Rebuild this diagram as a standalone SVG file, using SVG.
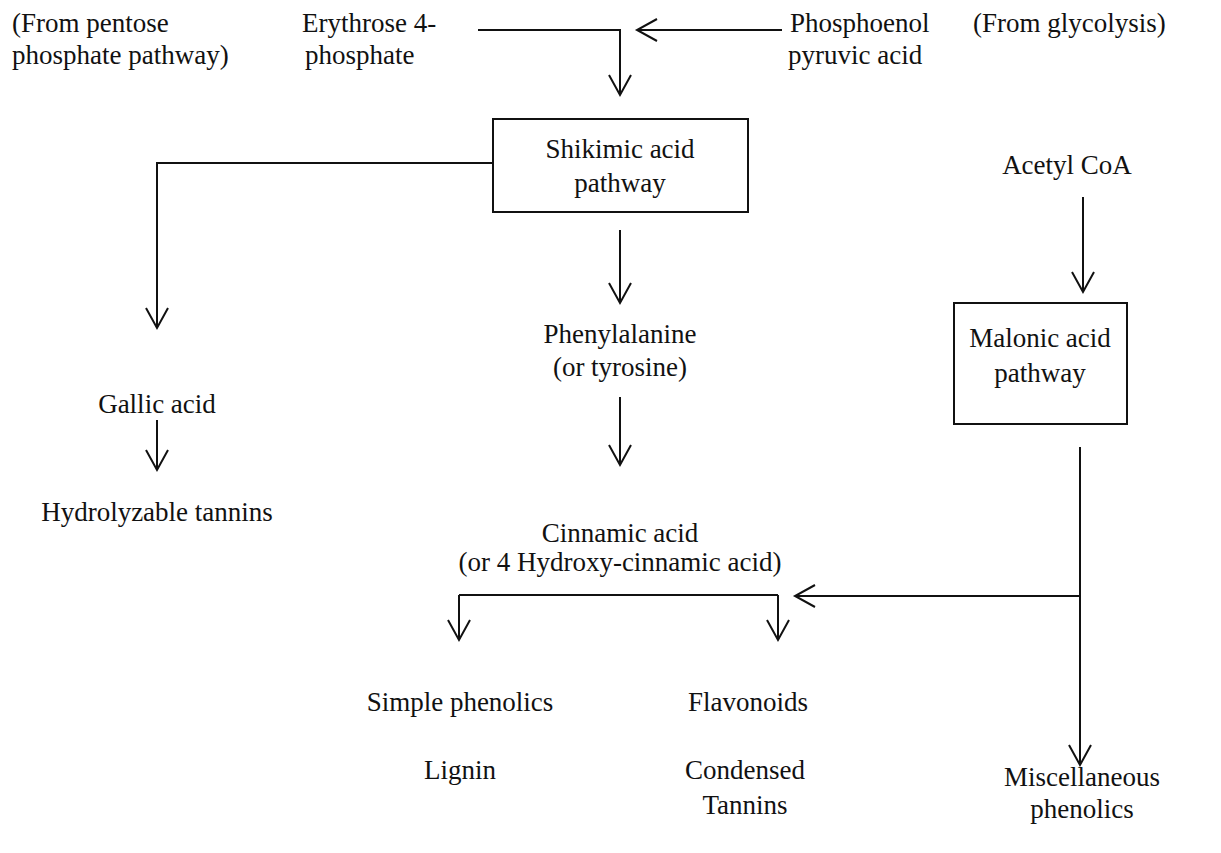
<svg xmlns="http://www.w3.org/2000/svg" width="1221" height="853" viewBox="0 0 1221 853">
<style>
text{font-family:"Liberation Serif","Times New Roman",serif;font-size:27px;fill:#111}
.c{text-anchor:middle}
.ln{fill:none;stroke:#111;stroke-width:2}
.box{fill:#fff;stroke:#111;stroke-width:2}
</style>
<defs>
<marker id="v" viewBox="0 0 30 30" refX="26" refY="15" markerWidth="30" markerHeight="30" markerUnits="userSpaceOnUse" orient="auto">
<path d="M6 4 L26 15 L6 26" fill="none" stroke="#111" stroke-width="2"/>
</marker>
</defs>
<rect width="1221" height="853" fill="#fff"/>
<g id="connectors">
<path class="ln" d="M478 30 H620 V95" marker-end="url(#v)"/>
<path class="ln" d="M782 30 H637" marker-end="url(#v)"/>
<path class="ln" d="M493 163 H157 V328" marker-end="url(#v)"/>
<path class="ln" d="M157 420 V470" marker-end="url(#v)"/>
<path class="ln" d="M620 230 V303" marker-end="url(#v)"/>
<path class="ln" d="M620 397 V465" marker-end="url(#v)"/>
<path class="ln" d="M459 595 H778"/>
<path class="ln" d="M459 595 V640" marker-end="url(#v)"/>
<path class="ln" d="M778 595 V640" marker-end="url(#v)"/>
<path class="ln" d="M1083 197 V292" marker-end="url(#v)"/>
<path class="ln" d="M1080 447 V765" marker-end="url(#v)"/>
<path class="ln" d="M1080 596 H795" marker-end="url(#v)"/>
</g>
<g id="pentose"><text x="12" y="32">(From pentose</text><text x="12" y="64">phosphate pathway)</text></g>
<g id="erythrose"><text x="302" y="32">Erythrose 4-</text><text x="305" y="64">phosphate</text></g>
<g id="pep"><text x="790" y="32">Phosphoenol</text><text x="788" y="64">pyruvic acid</text></g>
<g id="glycolysis"><text x="973" y="32">(From glycolysis)</text></g>
<g id="shikimic"><rect class="box" x="493" y="119" width="255" height="93"/><text class="c" x="620" y="158">Shikimic acid</text><text class="c" x="620" y="192">pathway</text></g>
<g id="acetyl"><text class="c" x="1067" y="174">Acetyl CoA</text></g>
<g id="malonic"><rect class="box" x="954" y="303" width="173" height="121"/><text class="c" x="1040" y="347">Malonic acid</text><text class="c" x="1040" y="382">pathway</text></g>
<g id="phenylalanine"><text class="c" x="620" y="343">Phenylalanine</text><text class="c" x="620" y="376">(or tyrosine)</text></g>
<g id="gallic"><text class="c" x="157" y="413">Gallic acid</text></g>
<g id="hydrolyzable"><text class="c" x="157" y="521">Hydrolyzable tannins</text></g>
<g id="cinnamic"><text class="c" x="620" y="542">Cinnamic acid</text><text class="c" x="620" y="571">(or 4 Hydroxy-cinnamic acid)</text></g>
<g id="simple"><text class="c" x="460" y="711">Simple phenolics</text></g>
<g id="lignin"><text class="c" x="460" y="779">Lignin</text></g>
<g id="flavonoids"><text class="c" x="748" y="711">Flavonoids</text></g>
<g id="condensed"><text class="c" x="745" y="779">Condensed</text><text class="c" x="745" y="814">Tannins</text></g>
<g id="misc"><text class="c" x="1082" y="786">Miscellaneous</text><text class="c" x="1082" y="818">phenolics</text></g>
</svg>
